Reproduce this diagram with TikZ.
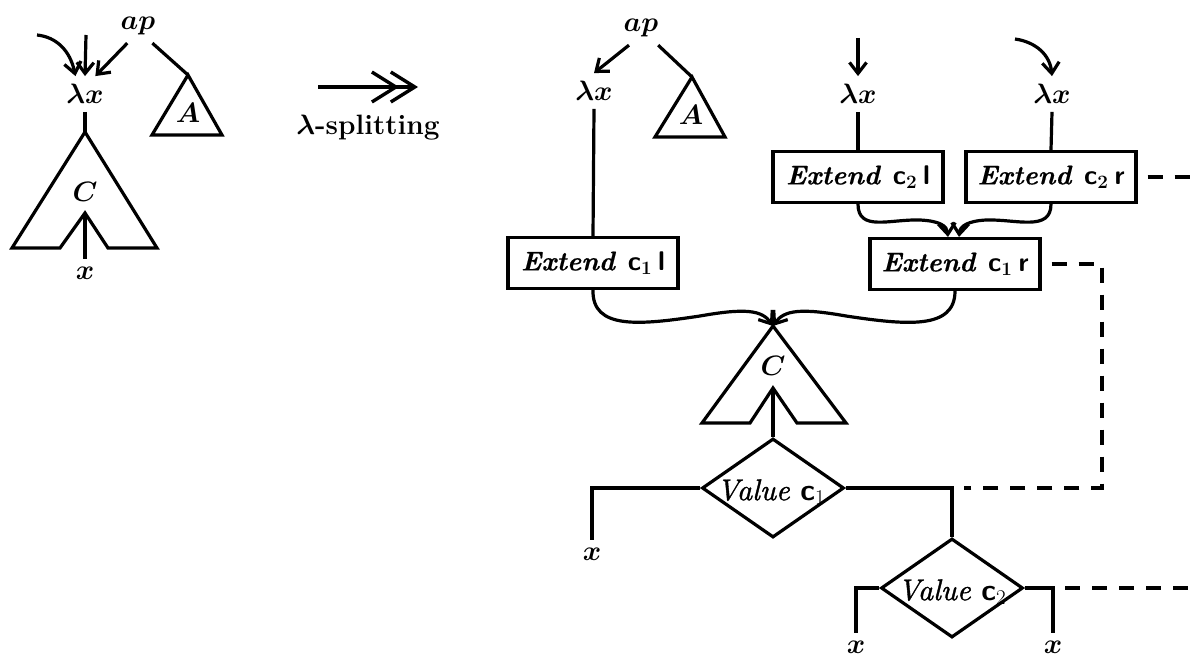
\RequirePackage{fix-cm}
\documentclass[tikz,border=0pt]{standalone}
\usepackage{fontspec}
\usetikzlibrary{arrows.meta,shapes.geometric}
\newfontface\extfont{lmroman10-bolditalic.otf}[FakeBold=0.5]
\newfontface\valfont{lmroman10-italic.otf}[FakeBold=1.2]
\newcommand\bigfs{\fontsize{28}{32}\selectfont}
\newcommand\boxfs{\fontsize{27}{32}\selectfont}
\newcommand\csub[1]{{\sffamily\bfseries\upshape c}$_{#1}$}
\newcommand\side[1]{{\sffamily\bfseries\upshape #1}}
\newcommand\extlab[2]{Extend\hspace{13pt}\csub{#1}\hspace{6pt}\side{#2}}
\begin{document}
\begin{tikzpicture}[x=1pt,y=-1pt,
  ln/.style={line width=3.2pt},
  arr/.style={line width=3.2pt,-{Straight Barb[length=11pt,width=17pt]}},
  lab/.style={inner sep=8pt,font=\bigfs\boldmath},
  ebox/.style={draw,line width=3.2pt,minimum width=170pt,minimum height=51pt,
    inner sep=0pt,font=\boxfs\extfont\boldmath},
  dmd/.style={draw,diamond,line width=3.2pt,minimum width=142pt,
    minimum height=99pt,inner sep=0pt},
  vlab/.style={inner sep=0pt,font=\fontsize{30}{32}\selectfont\valfont},
  dsh/.style={line width=3.2pt,dash pattern=on 15pt off 12pt}]
\useasboundingbox (0,0) rectangle (1192,661);

% ---------- term before the transformation ----------
\node[lab] (ap1) at (138,26) {$ap$};
\node[lab] (lx1) at (85,94) {$\lambda x$};
\coordinate (s1) at (37,35);
\coordinate (s2) at (86,35);
\draw[arr] (s1) .. controls (56,37) and (70,50) .. (lx1.118);
\draw[arr] (s2) -- (lx1.north);
\draw[arr] (ap1.238) -- (lx1.60);
% argument subtree A
\coordinate (At1) at (188,75);
\draw[ln] (ap1.-50) -- (At1);
\draw[ln] (At1) -- (222,135) -- (152,135) -- cycle;
\node[lab] (A1) at (188,113) {$A$};
% body C with the hole for x
\coordinate (Ct1) at (85,132);
\coordinate (Ch1) at (85,213);
\draw[ln] (lx1.south) -- (Ct1);
\draw[ln] (Ct1) -- (157,248) -- (108,248) -- (Ch1) -- (60,248) -- (12,248) -- cycle;
\node[lab] (C1) at (85,192) {$C$};
\node[lab] (x1) at (85,273) {$x$};
\draw[ln] (Ch1) -- (x1.north);

% ---------- transformation arrow ----------
\coordinate (m1) at (318,87);
\coordinate (m2) at (418,87);
\draw[line width=3.4pt,-{Straight Barb[length=24pt,width=30pt,sep=-10pt]Straight Barb[length=24pt,width=30pt]}] (m1) -- (m2);
\node[inner sep=0pt,font=\bigfs\bfseries\boldmath] (spl) at (368,128) {$\lambda$-splitting};

% ---------- term after the transformation ----------
\node[lab] (ap2) at (641,28) {$ap$};
\node[lab] (lx2) at (594,91) {$\lambda x$};
\draw[arr] (ap2.235) -- (lx2.north);
\coordinate (At2) at (692,77);
\draw[ln] (ap2.-45) -- (At2);
\draw[ln] (At2) -- (725,137) -- (655,137) -- cycle;
\node[lab] (A2) at (691,115) {$A$};

\node[lab] (lx3) at (858,94) {$\lambda x$};
\node[lab] (lx4) at (1052,94) {$\lambda x$};
\coordinate (s3) at (858,38);
\coordinate (s4) at (1015,39);
\draw[arr] (s3) -- (lx3.north);
\draw[arr] (s4) .. controls (1036,42) and (1050,55) .. (lx4.north);

% extension boxes
\node[ebox] (E1L) at (593,263) {\extlab{1}{l}};
\node[ebox] (E2L) at (858,177) {\extlab{2}{l}};
\node[ebox] (E2R) at (1051,177) {\extlab{2}{r}};
\node[ebox] (E1R) at (955,264) {\extlab{1}{r}};

\draw[ln] (lx2.south) -- (E1L.north);
\draw[ln] (lx3.south) -- (E2L.north);
\draw[ln] (lx4.south) -- (E2R.north);

\draw[arr] (E2L.south) .. controls (858,232) and (890,219) .. (920,220)
  .. controls (940,221) and (947,226) .. ([xshift=-7pt]E1R.north);
\draw[arr] (E2R.south) .. controls (1051,232) and (1016,219) .. (986,220)
  .. controls (968,221) and (960,226) .. ([xshift=4pt]E1R.north);

% body C with the hole, below the boxes
\coordinate (Ct2) at (773,326);
\coordinate (Ch2) at (773,388);
\draw[arr] (E1L.south) .. controls (592,330) and (640,325) .. (700,316)
  .. controls (745,308) and (762,310) .. (Ct2);
\draw[arr] (E1R.south) .. controls (955,330) and (906,325) .. (846,316)
  .. controls (801,308) and (784,310) .. (Ct2);
\draw[ln] (Ct2) -- (846,423) -- (797,423) -- (Ch2) -- (750,423) -- (702,423) -- cycle;
\node[lab] (C2) at (773,366) {$C$};

% value tests
\node[dmd] (D1) at (773,488) {};
\node[vlab] (V1) at (771,492) {Value \csub{1}};
\node[dmd] (D2) at (952,588) {};
\node[vlab] (V2) at (952,592) {Value \csub{2}};
\draw[ln] (Ch2) -- (D1.north);

\node[lab] (x2) at (592,554) {$x$};
\node[lab] (x3) at (856,647) {$x$};
\node[lab] (x4) at (1053,647) {$x$};
\draw[ln] (D1.west) -| (x2.north);
\draw[ln] (D1.east) -| (D2.north);
\draw[ln] (D2.west) -| (x3.north);
\draw[ln] (D2.east) -| (x4.north);

% dashed links
\coordinate (e1) at (1192,177);
\coordinate (b1) at (1102,488);
\coordinate (k1) at (952,488);
\coordinate (k2) at (1053,588);
\coordinate (e2) at (1192,588);
\draw[dsh,shorten <=10pt] (E2R.east) -- (e1);
\draw[dsh,shorten <=10pt,shorten >=12pt] (E1R.east) -| (b1) -- (k1);
\draw[dsh,shorten <=12pt] (k2) -- (e2);
\end{tikzpicture}
\end{document}
